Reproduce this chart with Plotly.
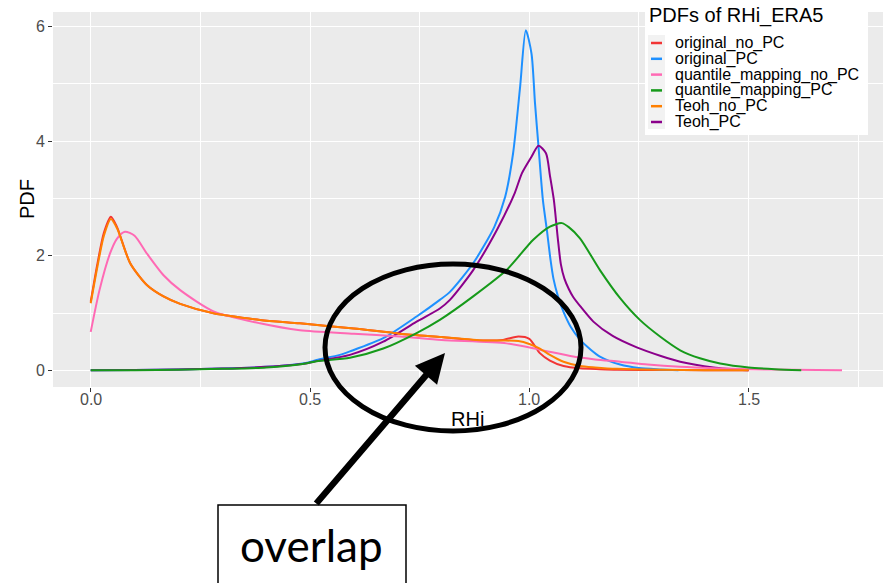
import plotly.graph_objects as go

# ---- density curves of RHi_ERA5 -------------------------------------------
series_names = ["original_no_PC", "original_PC", "quantile_mapping_no_PC",
                "quantile_mapping_PC", "Teoh_no_PC", "Teoh_PC"]
series_colors = ["#F23535", "#1E90FF", "#FF69B4", "#169A1A", "#FF7F00", "#8B008B"]

orig_no_pc_x = [0, 0.015, 0.03, 0.046, 0.06, 0.09, 0.128, 0.166, 0.204, 0.28, 0.386,
                0.477, 0.6, 0.705, 0.8, 0.895, 0.94, 0.975, 1.0, 1.024, 1.047, 1.078,
                1.116, 1.16, 1.2, 1.3, 1.4, 1.5]
orig_no_pc_y = [1.2, 1.85, 2.4, 2.68, 2.5, 1.87, 1.49, 1.29, 1.16, 0.995, 0.88,
                0.82, 0.73, 0.64, 0.58, 0.52, 0.53, 0.59, 0.55, 0.30, 0.17, 0.075,
                0.035, 0.02, 0.01, 0.005, 0.002, 0]

orig_pc_x = [0, 0.1, 0.2, 0.3, 0.4, 0.49, 0.515, 0.568, 0.591, 0.667, 0.743, 0.796,
             0.819, 0.872, 0.92, 0.945, 0.963, 0.979, 0.992, 1.005, 1.013, 1.021,
             1.031, 1.04, 1.048, 1.055, 1.065, 1.078, 1.095, 1.116, 1.14, 1.161,
             1.207, 1.25, 1.3, 1.34]
orig_pc_y = [0, 0.005, 0.015, 0.03, 0.06, 0.13, 0.18, 0.27, 0.33, 0.56, 0.94, 1.23,
             1.37, 1.87, 2.5, 3.03, 3.79, 4.95, 5.94, 5.53, 4.66, 3.90,
             2.97, 2.45, 1.95, 1.6, 1.3, 1.02, 0.75, 0.53, 0.36, 0.24,
             0.1, 0.04, 0.015, 0]

qm_no_pc_x = [0, 0.02, 0.044, 0.06, 0.078, 0.1, 0.128, 0.166, 0.204, 0.28, 0.386,
              0.477, 0.6, 0.705, 0.8, 0.948, 1.024, 1.1, 1.15, 1.207, 1.27, 1.344,
              1.42, 1.5, 1.6, 1.713]
qm_no_pc_y = [0.67, 1.4, 2.04, 2.3, 2.42, 2.35, 2.04, 1.66, 1.40, 1.03, 0.82,
              0.70, 0.64, 0.59, 0.53, 0.47, 0.36, 0.24, 0.19, 0.15, 0.10, 0.06,
              0.035, 0.02, 0.008, 0]

qm_pc_x = [0, 0.1, 0.2, 0.3, 0.4, 0.49, 0.515, 0.591, 0.667, 0.743, 0.796, 0.872,
           0.948, 1.009, 1.047, 1.074, 1.09, 1.116, 1.161, 1.207, 1.252, 1.298,
           1.344, 1.389, 1.435, 1.5, 1.56, 1.62]
qm_pc_y = [0, 0.003, 0.01, 0.025, 0.05, 0.12, 0.16, 0.22, 0.38, 0.65, 0.88, 1.29,
           1.75, 2.28, 2.51, 2.57, 2.5, 2.3, 1.75, 1.26, 0.88, 0.59,
           0.35, 0.21, 0.12, 0.05, 0.02, 0]

teoh_no_pc_x = [0, 0.015, 0.03, 0.046, 0.06, 0.09, 0.128, 0.166, 0.204, 0.28, 0.386,
                0.477, 0.6, 0.705, 0.8, 0.895, 0.94, 0.975, 1.0, 1.024, 1.047, 1.078,
                1.116, 1.15, 1.2, 1.3, 1.4, 1.5]
teoh_no_pc_y = [1.17, 1.8, 2.35, 2.64, 2.48, 1.87, 1.49, 1.29, 1.16, 0.995, 0.88,
                0.82, 0.73, 0.64, 0.58, 0.52, 0.52, 0.51, 0.46, 0.38, 0.27, 0.15,
                0.075, 0.05, 0.025, 0.008, 0.003, 0]

teoh_pc_x = [0, 0.1, 0.2, 0.3, 0.4, 0.49, 0.515, 0.591, 0.667, 0.743, 0.796, 0.819,
             0.872, 0.926, 0.967, 0.983, 1.005, 1.021, 1.038, 1.047, 1.056, 1.065,
             1.072, 1.08, 1.09, 1.10, 1.116, 1.146, 1.19, 1.245, 1.3, 1.344, 1.42, 1.5]
teoh_pc_y = [0, 0.005, 0.015, 0.03, 0.06, 0.12, 0.16, 0.27, 0.50, 0.85, 1.08, 1.23,
             1.75, 2.45, 3.1, 3.44, 3.73, 3.92, 3.79, 3.40, 2.97, 2.3,
             1.85, 1.6, 1.42, 1.28, 1.12, 0.85, 0.6, 0.4, 0.25, 0.15, 0.05, 0]

series_x = [orig_no_pc_x, orig_pc_x, qm_no_pc_x, qm_pc_x, teoh_no_pc_x, teoh_pc_x]
series_y = [orig_no_pc_y, orig_pc_y, qm_no_pc_y, qm_pc_y, teoh_no_pc_y, teoh_pc_y]

x_tick_vals = [0, 0.5, 1.0, 1.5]
x_tick_text = ["0.0", "0.5", "1.0", "1.5"]
y_tick_vals = [0, 2, 4, 6]
y_tick_text = ["0", "2", "4", "6"]

legend_title = "PDFs of RHi_ERA5"
x_title = "RHi"
y_title = "PDF"
callout_text = "overlap"

# ---- page geometry (pixels) -------------------------------------------------
W, H = 883, 583
ML, MR, MT, MB = 53, 0, 12, 196
PW, PH = W - ML - MR, H - MT - MB


def px(xp):
    return (xp - ML) / PW


def py(yp):
    return (H - MB - yp) / PH


FONT = "Liberation Sans, Arial, sans-serif"
TICK_FONT = dict(family=FONT, size=16, color="#4D4D4D")

fig = go.Figure()

# drawing order of the density lines
draw_order = [0, 1, 5, 2, 4, 3]
for i in draw_order:
    fig.add_trace(go.Scatter(
        x=series_x[i], y=series_y[i], mode="lines", name=series_names[i],
        line=dict(color=series_colors[i], width=2, shape="spline", smoothing=0.7),
        showlegend=False,
    ))

axis_common = dict(
    showgrid=True, gridcolor="white", gridwidth=1.1, zeroline=False,
    showline=False, ticks="outside", ticklen=4, tickcolor="#333333", tickwidth=1,
    tickfont=TICK_FONT,
)

fig.update_layout(
    width=W, height=H,
    margin=dict(l=ML, r=MR, t=MT, b=MB, pad=0),
    paper_bgcolor="white", plot_bgcolor="#EBEBEB",
    xaxis=dict(range=[-0.086, 1.8064], tickvals=x_tick_vals, ticktext=x_tick_text,
               showticklabels=False,
               minor=dict(dtick=0.25, tick0=0.25, showgrid=True, gridcolor="white",
                          gridwidth=0.5, ticks=""),
               **axis_common),
    yaxis=dict(range=[-0.2916, 6.2565], tickvals=y_tick_vals, ticktext=y_tick_text,
               minor=dict(dtick=1, tick0=1, showgrid=True, gridcolor="white",
                          gridwidth=0.5, ticks=""),
               **axis_common),
    showlegend=False,
)

shapes = []
annotations = []

# x tick labels, set close under the tick marks
for v, t in zip(x_tick_vals, x_tick_text):
    annotations.append(dict(text=t, xref="x", yref="paper", x=v, y=py(399.5),
                            xanchor="center", yanchor="middle", showarrow=False,
                            font=TICK_FONT))

# axis titles
annotations.append(dict(text=x_title, xref="paper", yref="paper", x=px(467), y=py(419),
                        xanchor="center", yanchor="middle", showarrow=False,
                        font=dict(family=FONT, size=20, color="black")))
annotations.append(dict(text=y_title, xref="paper", yref="paper", x=px(27), y=py(199),
                        xanchor="center", yanchor="middle", showarrow=False, textangle=-90,
                        font=dict(family=FONT, size=20, color="black")))

# legend box
shapes.append(dict(type="rect", xref="paper", yref="paper", layer="above",
                   x0=px(645), x1=px(868), y0=py(135), y1=py(0),
                   fillcolor="white", line=dict(width=0)))
shapes.append(dict(type="rect", xref="paper", yref="paper", layer="above",
                   x0=px(648), x1=px(665), y0=py(129), y1=py(35),
                   fillcolor="#F2F2F2", line=dict(width=0)))
annotations.append(dict(text=legend_title, xref="paper", yref="paper", x=px(647), y=py(15),
                        xanchor="left", yanchor="middle", showarrow=False,
                        font=dict(family=FONT, size=20, color="black")))
for k, (name, col) in enumerate(zip(series_names, series_colors)):
    yc = 43 + k * 15.8
    shapes.append(dict(type="line", xref="paper", yref="paper", layer="above",
                       x0=px(651), x1=px(662), y0=py(yc), y1=py(yc),
                       line=dict(color=col, width=2.5)))
    annotations.append(dict(text=name, xref="paper", yref="paper", x=px(673), y=py(yc),
                            xanchor="left", yanchor="middle", showarrow=False,
                            font=dict(family=FONT, size=16, color="black")))

# ellipse around the overlapping region
shapes.append(dict(type="circle", xref="paper", yref="paper", layer="above",
                   x0=px(325), x1=px(581), y0=py(431), y1=py(264),
                   line=dict(color="black", width=5)))

# callout box with arrow
shapes.append(dict(type="rect", xref="paper", yref="paper", layer="above",
                   x0=px(218), x1=px(406), y0=py(600), y1=py(505),
                   fillcolor="white", line=dict(color="black", width=1.5)))
annotations.append(dict(text=callout_text, xref="paper", yref="paper", x=px(311), y=py(545),
                        xanchor="center", yanchor="middle", showarrow=False,
                        font=dict(family="Lato, Carlito, sans-serif", size=44, color="black")))
annotations.append(dict(text="", xref="paper", yref="paper", x=px(445), y=py(353),
                        ax=315 - 445, ay=505 - 353, axref="pixel", ayref="pixel",
                        showarrow=True, arrowhead=2, arrowsize=0.9, arrowwidth=6.5,
                        arrowcolor="black", standoff=0, startstandoff=0))

fig.update_layout(shapes=shapes, annotations=annotations)

fig.write_html("out.html")
